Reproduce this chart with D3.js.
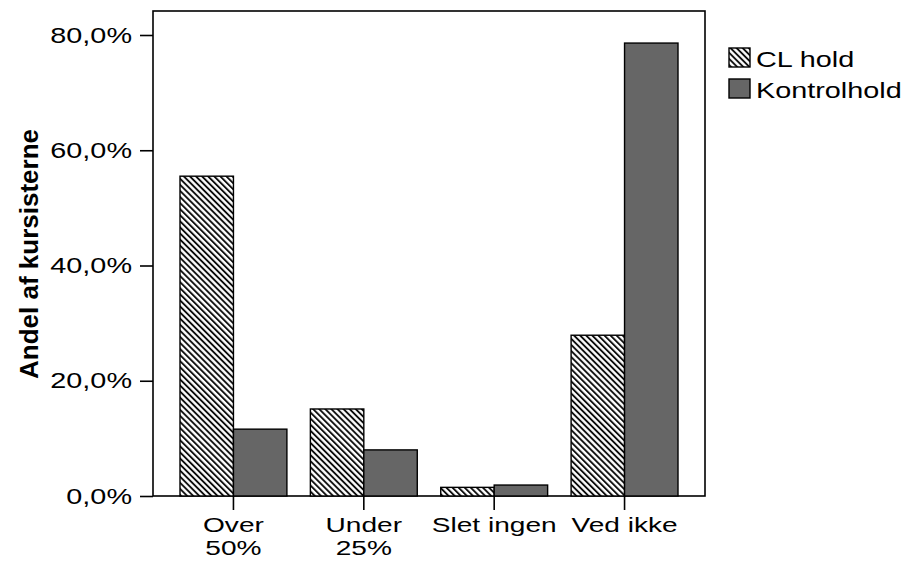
<!DOCTYPE html>
<html><head><meta charset="utf-8">
<script src="https://cdn.jsdelivr.net/npm/d3@7"></script>
<style>body{margin:0;background:#fff}svg{display:block}</style>
</head><body><svg id="c" width="910" height="561"></svg>
<script>
const categories = [["Over","50%"],["Under","25%"],["Slet ingen"],["Ved ikke"]];
const catKeys = ["Over 50%","Under 25%","Slet ingen","Ved ikke"];
const seriesNames = ["CL hold","Kontrolhold"];
const clValues = [55.5, 15.1, 1.5, 27.9];
const kontrolValues = [11.6, 8.0, 1.9, 78.6];
const yTicks = [0,20,40,60,80];
const yTickLabels = ["0,0%","20,0%","40,0%","60,0%","80,0%"];

(function(){
const FONT = "Liberation Sans, Arial, sans-serif";
const FS = 22.5, STRETCH = 1.28;
function widen(sel, f){
  sel.each(function(){
    const w = this.getComputedTextLength();
    d3.select(this).attr("textLength", w*(f||STRETCH)).attr("lengthAdjust","spacingAndGlyphs");
  });
}
const svg = d3.select("#c");
const defs = svg.append("defs");
const pat = defs.append("pattern").attr("id","hatch").attr("patternUnits","userSpaceOnUse")
  .attr("width",4.3).attr("height",4.3).attr("patternTransform","rotate(-45)");
pat.append("rect").attr("width",4.3).attr("height",4.3).attr("fill","#fff");
pat.append("line").attr("x1",1).attr("y1",0).attr("x2",1).attr("y2",4.3).attr("stroke","#000").attr("stroke-width",1.8);

const fills = ["url(#hatch)","#666666"];
const pL=153, pT=11, pR=705, pB=496;
const y = d3.scaleLinear().domain([0,80]).range([pB,35]);
const x = d3.scaleBand().domain(catKeys).range([180,678]).paddingInner(0.18).paddingOuter(0);
const xs = d3.scaleBand().domain(seriesNames).range([0,x.bandwidth()]);

svg.append("rect").attr("x",pL).attr("y",pT).attr("width",pR-pL).attr("height",pB-pT)
  .attr("fill","none").attr("stroke","#000").attr("stroke-width",1.6);

const data = catKeys.map((c,i)=>({c, vals:[clValues[i],kontrolValues[i]]}));
const g = svg.append("g");
data.forEach(d=>{
  d.vals.forEach((v,j)=>{
    g.append("rect").attr("x",x(d.c)+xs(seriesNames[j])).attr("y",y(v))
      .attr("width",xs.bandwidth()).attr("height",pB-y(v))
      .attr("fill",fills[j]).attr("stroke","#000").attr("stroke-width",1.4);
  });
});

const yAxis = d3.axisLeft(y).tickValues(yTicks).tickFormat((d,i)=>yTickLabels[i]).tickSize(13).tickPadding(8);
const ya = svg.append("g").attr("transform",`translate(${pL},0)`).call(yAxis);
ya.select(".domain").remove();
ya.selectAll("line").attr("stroke","#000").attr("stroke-width",1.6);
ya.selectAll("text").attr("font-family",FONT).attr("font-size",FS).attr("fill","#000").call(widen);

const xa = svg.append("g").attr("transform",`translate(0,${pB})`);
catKeys.forEach((c,i)=>{
  const cx = x(c)+x.bandwidth()/2;
  xa.append("line").attr("x1",cx).attr("x2",cx).attr("y1",0).attr("y2",14).attr("stroke","#000").attr("stroke-width",1.6);
  categories[i].forEach((line,k)=>{
    xa.append("text").attr("text-anchor","middle").attr("font-family",FONT)
      .attr("font-size",20.5).attr("fill","#000").attr("x",cx).attr("y",36+k*23).text(line).call(widen, 1.37);
  });
});

svg.append("text").attr("transform","translate(38,254) rotate(-90)").attr("text-anchor","middle")
  .attr("font-family","Liberation Sans Narrow, Arial Narrow, Liberation Sans, sans-serif").attr("font-weight","bold")
  .attr("font-size",26).attr("fill","#000").text("Andel af kursisterne");

const lg = svg.append("g");
seriesNames.forEach((s,i)=>{
  const yy = 48 + i*31;
  lg.append("rect").attr("x",729).attr("y",yy).attr("width",21).attr("height",19)
    .attr("fill",fills[i]).attr("stroke","#000").attr("stroke-width",1.4);
  lg.append("text").attr("x",756).attr("y",yy+19).attr("font-family",FONT)
    .attr("font-size",FS).attr("fill","#000").text(s).call(widen);
});
})();
</script></body></html>
